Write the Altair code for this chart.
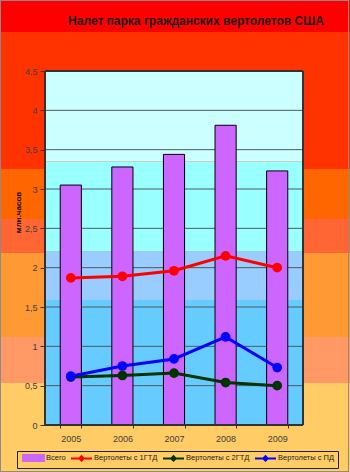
import altair as alt
import pandas as pd

# ---- data ----
years = ["2005", "2006", "2007", "2008", "2009"]
total = [3.05, 3.28, 3.44, 3.81, 3.23]
gtd1 = [1.87, 1.89, 1.96, 2.15, 2.00]
gtd2 = [0.61, 0.63, 0.66, 0.54, 0.50]
pd_series = [0.62, 0.75, 0.84, 1.12, 0.73]
series_names = ["Всего", "Вертолеты с 1ГТД", "Вертолеты с 2ГТД", "Вертолеты с ПД"]
series_colors = ["#CC66FF", "#FF0000", "#003300", "#0000FF"]
y_ticks = [0, 0.5, 1, 1.5, 2, 2.5, 3, 3.5, 4, 4.5]
title_text = "Налет парка гражданских вертолетов США"
y_title = "млн.часов"

# decoration: plot-area bands (in data units) and outer background stripes (pixels)
inner_lo = [0, 1.59, 2.21, 3.35]
inner_hi = [1.59, 2.21, 3.35, 4.5]
inner_colors = ["#66CCFF", "#99CCFF", "#99FFFF", "#CCFFFF"]
outer_y0 = [-71, -39, 98, 148, 182, 266, 312]
outer_y1 = [-39, 98, 148, 182, 266, 312, 401]
outer_colors = ["#FF0000", "#FF3300", "#FF6600", "#FF6633", "#FF9933", "#FF9966", "#FFCC66"]

FONT = "Liberation Sans"
W, H = 258, 354

bars_df = pd.DataFrame({"year": years, "value": total, "series": series_names[0]})
line_rows = []
for name, vals in [(series_names[1], gtd1), (series_names[2], gtd2), (series_names[3], pd_series)]:
    for y, v in zip(years, vals):
        line_rows.append({"year": y, "value": v, "series": name})
lines_df = pd.DataFrame(line_rows)
inner_df = pd.DataFrame({"lo": inner_lo, "hi": inner_hi, "c": inner_colors})
outer_df = pd.DataFrame({"y0": outer_y0, "y1": outer_y1, "c": outer_colors})
grid_df = pd.DataFrame({"t": y_ticks})

yscale = alt.Scale(domain=[0, 4.5], nice=False)
yaxis = alt.Axis(
    values=y_ticks, zindex=1,
    labelExpr="replace(toString(datum.value), '.', ',')",
    grid=False, domain=False, tickColor="#333333", tickSize=5,
    labelFontSize=9, labelFont=FONT, labelColor="#404040", labelPadding=3,
    title=y_title, titleFontSize=8, titleFont=FONT, titleFontWeight="bold",
    titleColor="#111111", titleX=-27, titleY=141, titleAlign="center",
    titleBaseline="middle", titleAngle=270,
)
xscale = alt.Scale(paddingInner=0.59, paddingOuter=0.295)
xaxis = alt.Axis(
    title=None, labelAngle=0, labelFontSize=9, labelFont=FONT, labelColor="#404040",
    tickBand="extent", tickSize=3, tickColor="#333333", domain=False, labelPadding=6,
    zindex=1,
)
color_scale = alt.Scale(domain=series_names, range=series_colors)

is_total = "datum.value === 'Всего'"
legend = alt.Legend(
    orient="none", legendX=-28, legendY=380, direction="horizontal", columns=4,
    title=None, labelFontSize=7.5, labelFont=FONT, labelColor="#222222",
    symbolSize=36, symbolOffset=9.5, labelOffset=8.5, columnPadding=1, padding=3,
    strokeColor="#222222", fillColor="#FFCC66",
    symbolType=alt.ExprRef(expr=is_total + " ? 'M-3.5,-1H3.5V1H-3.5Z' : 'M-3.5,0H3.5M0,-0.75L0.75,0L0,0.75L-0.75,0Z'"),
    symbolStrokeWidth=2,
    symbolStrokeColor=alt.ExprRef(expr=is_total + " ? '#000000' : scale('color', datum.value)"),
    symbolFillColor=alt.ExprRef(expr="scale('color', datum.value)"),
    symbolOpacity=1,
)

outer = alt.Chart(outer_df).mark_rect().encode(
    x=alt.value(-45), x2=alt.value(305),
    y=alt.Y("y0:Q", scale=None), y2="y1:Q",
    fill=alt.Fill("c:N", scale=None),
)

outer_frame = alt.Chart(grid_df).mark_rect(fill="transparent", stroke="#8a8a8a", strokeWidth=1).encode(
    x=alt.value(-44.5), x2=alt.value(303.5), y=alt.value(-71), y2=alt.value(401),
)

inner = alt.Chart(inner_df).mark_rect().encode(
    x=alt.value(0), x2=alt.value("width"),
    y=alt.Y("lo:Q", scale=yscale, axis=yaxis), y2="hi:Q",
    fill=alt.Fill("c:N", scale=None),
)

grid = alt.Chart(grid_df).mark_rule(color="#4d5a5a", strokeWidth=1).encode(
    x=alt.value(0), x2=alt.value("width"),
    y=alt.Y("t:Q", scale=yscale, axis=yaxis),
)

bars = alt.Chart(bars_df).mark_bar(stroke="#000000", strokeWidth=1).encode(
    x=alt.X("year:N", scale=xscale, axis=xaxis, sort=years),
    y=alt.Y("value:Q", scale=yscale, axis=yaxis),
    color=alt.Color("series:N", scale=color_scale, legend=legend, sort=series_names),
)

lines = alt.Chart(lines_df).mark_line(strokeWidth=3).encode(
    x=alt.X("year:N", scale=xscale, axis=xaxis, sort=years),
    y=alt.Y("value:Q", scale=yscale, axis=yaxis),
    color=alt.Color("series:N", scale=color_scale, legend=legend, sort=series_names),
    detail="series:N",
)

points = alt.Chart(lines_df).mark_point(filled=True, size=95, opacity=1).encode(
    x=alt.X("year:N", scale=xscale, axis=xaxis, sort=years),
    y=alt.Y("value:Q", scale=yscale, axis=yaxis),
    color=alt.Color("series:N", scale=color_scale, legend=legend, sort=series_names),
)

frame = alt.Chart(grid_df).mark_rect(fill="transparent", stroke="#333333", strokeWidth=1).encode(
    x=alt.value(0), x2=alt.value("width"), y=alt.value(0), y2=alt.value("height"),
)

chart = alt.layer(outer, outer_frame, inner, grid, bars, lines, points, frame).properties(
    width=W, height=H,
    title=alt.TitleParams(
        title_text, fontSize=12, fontWeight="bold", font=FONT, color="#1a1a1a",
        anchor="middle", dx=22, offset=-28, frame="group", zindex=2,
    ),
    autosize=alt.AutoSizeParams(type="none"),
    padding={"left": 45, "top": 71, "right": 47, "bottom": 47},
).configure(background="#FFCC66").configure_view(stroke=None)

chart.save("out.html", embed_options={"renderer": "svg", "actions": False})
